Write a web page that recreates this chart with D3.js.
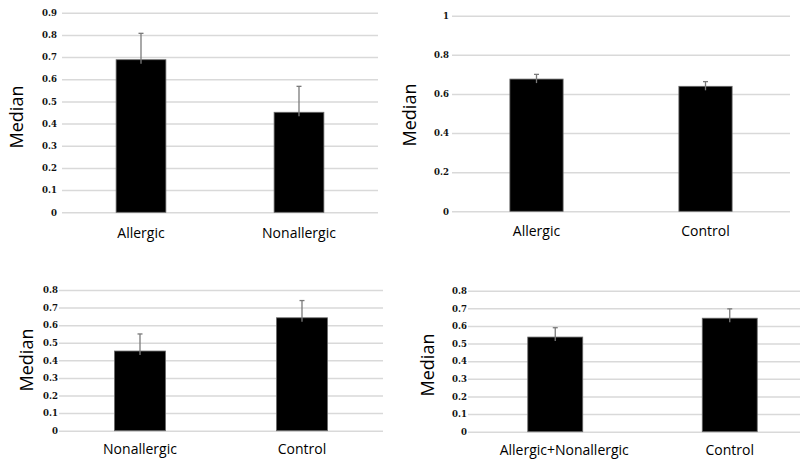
<!DOCTYPE html>
<html>
<head>
<meta charset="utf-8">
<script src="https://cdn.jsdelivr.net/npm/d3@7"></script>
<style>
  html, body { margin: 0; padding: 0; background: #fff; }
  svg { display: block; }
</style>
</head>
<body>
<svg id="chart" width="800" height="460"></svg>
<script>
// ---- Data ----
const categories1 = ["Allergic", "Nonallergic"];
const medians1 = [0.688, 0.451];
const errors1 = [0.119, 0.117];
const ticks1 = [0, 0.1, 0.2, 0.3, 0.4, 0.5, 0.6, 0.7, 0.8, 0.9];
const tickLabels1 = ["0", "0.1", "0.2", "0.3", "0.4", "0.5", "0.6", "0.7", "0.8", "0.9"];

const categories2 = ["Allergic", "Control"];
const medians2 = [0.676, 0.639];
const errors2 = [0.024, 0.024];
const ticks2 = [0, 0.2, 0.4, 0.6, 0.8, 1];
const tickLabels2 = ["0", "0.2", "0.4", "0.6", "0.8", "1"];

const categories3 = ["Nonallergic", "Control"];
const medians3 = [0.453, 0.642];
const errors3 = [0.097, 0.098];
const ticks3 = [0, 0.1, 0.2, 0.3, 0.4, 0.5, 0.6, 0.7, 0.8];
const tickLabels3 = ["0", "0.1", "0.2", "0.3", "0.4", "0.5", "0.6", "0.7", "0.8"];

const categories4 = ["Allergic+Nonallergic", "Control"];
const medians4 = [0.537, 0.644];
const errors4 = [0.053, 0.053];
const ticks4 = [0, 0.1, 0.2, 0.3, 0.4, 0.5, 0.6, 0.7, 0.8];
const tickLabels4 = ["0", "0.1", "0.2", "0.3", "0.4", "0.5", "0.6", "0.7", "0.8"];

const yLabel = "Median";

// ---- Layout (positions only) ----
const panels = [
  { cats: categories1, vals: medians1, errs: errors1, ticks: ticks1, labels: tickLabels1,
    x0: 62, x1: 378, yMax: 0.9, yTop: 12.7, yBottom: 212.3, pad: 5, catY: 238, catDx: [0, 0], ylx: 23, yly: 117 },
  { cats: categories2, vals: medians2, errs: errors2, ticks: ticks2, labels: tickLabels2,
    x0: 452, x1: 790, yMax: 1.0, yTop: 15.7, yBottom: 211.3, pad: 3, catY: 236, catDx: [0, 0], ylx: 416, yly: 115 },
  { cats: categories3, vals: medians3, errs: errors3, ticks: ticks3, labels: tickLabels3,
    x0: 59, x1: 383, yMax: 0.8, yTop: 290, yBottom: 430.7, pad: 1, catY: 454, catDx: [0, 0], ylx: 33, yly: 360 },
  { cats: categories4, vals: medians4, errs: errors4, ticks: ticks4, labels: tickLabels4,
    x0: 468, x1: 817, yMax: 0.8, yTop: 290.7, yBottom: 431.7, pad: 1, catY: 455, catDx: [9, 0], ylx: 434, yly: 365 }
];

const svg = d3.select("#chart");

panels.forEach(p => {
  const x = d3.scaleBand().domain(p.cats).range([p.x0, p.x1]).padding(0);
  const y = d3.scaleLinear().domain([0, p.yMax]).range([p.yBottom, p.yTop]);
  const barW = x.bandwidth() * 0.315;

  const g = svg.append("g");

  // y axis with gridlines
  const axis = d3.axisLeft(y)
    .tickValues(p.ticks)
    .tickFormat((d, i) => p.labels[i])
    .tickSizeInner(-(p.x1 - p.x0))
    .tickSizeOuter(0)
    .tickPadding(p.pad);

  const ag = g.append("g")
    .attr("transform", `translate(${p.x0},0)`)
    .call(axis);
  ag.select(".domain").remove();
  ag.selectAll(".tick line")
    .attr("stroke", "#d9d9d9")
    .attr("stroke-width", 1.5);
  ag.selectAll(".tick text")
    .attr("fill", "#111")
    .style("font-family", "'DejaVu Serif', serif")
    .style("font-weight", "bold")
    .style("font-size", "8.6px");

  // bars
  g.selectAll("rect.bar")
    .data(p.cats)
    .join("rect")
    .attr("class", "bar")
    .attr("x", d => x(d) + x.bandwidth() / 2 - barW / 2)
    .attr("y", (d, i) => y(p.vals[i]))
    .attr("width", barW)
    .attr("height", (d, i) => y(0) - y(p.vals[i]))
    .attr("fill", "#000")
    .attr("stroke", "#6a6a6a")
    .attr("stroke-width", 0.8);

  // error bars
  const eg = g.selectAll("g.err")
    .data(p.cats)
    .join("g")
    .attr("class", "err");
  eg.append("line")
    .attr("x1", d => x(d) + x.bandwidth() / 2)
    .attr("x2", d => x(d) + x.bandwidth() / 2)
    .attr("y1", (d, i) => y(p.vals[i]) + 4)
    .attr("y2", (d, i) => y(p.vals[i] + p.errs[i]))
    .attr("stroke", "#7a7a7a")
    .attr("stroke-width", 1.3);
  eg.append("line")
    .attr("x1", d => x(d) + x.bandwidth() / 2 - 2.5)
    .attr("x2", d => x(d) + x.bandwidth() / 2 + 2.5)
    .attr("y1", (d, i) => y(p.vals[i] + p.errs[i]))
    .attr("y2", (d, i) => y(p.vals[i] + p.errs[i]))
    .attr("stroke", "#7a7a7a")
    .attr("stroke-width", 1.3);

  // category labels
  g.selectAll("text.cat")
    .data(p.cats)
    .join("text")
    .attr("class", "cat")
    .attr("x", (d, i) => x(d) + x.bandwidth() / 2 + p.catDx[i])
    .attr("y", p.catY)
    .attr("text-anchor", "middle")
    .attr("fill", "#000")
    .style("font-family", "'Open Sans', sans-serif")
    .style("font-size", "14px")
    .text(d => d);

  // y label
  g.append("text")
    .attr("transform", `translate(${p.ylx},${p.yly}) rotate(-90)`)
    .attr("text-anchor", "middle")
    .attr("fill", "#000")
    .style("font-family", "'Open Sans', sans-serif")
    .style("font-size", "18px")
    .text(yLabel);
});
</script>
</body>
</html>
